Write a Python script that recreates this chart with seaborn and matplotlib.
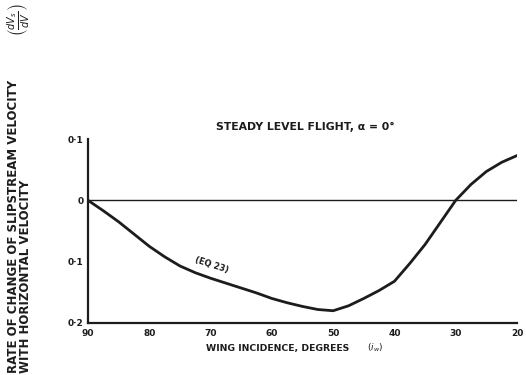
import matplotlib
matplotlib.use("Agg")
import matplotlib.pyplot as plt
import seaborn as sns
import pandas as pd

# Data
incidence = [90, 87.5, 85, 82.5, 80, 77.5, 75, 72.5, 70, 67.5, 65, 62.5, 60, 57.5, 55, 52.5, 50,
             47.5, 45, 42.5, 40, 37.5, 35, 32.5, 30, 27.5, 25, 22.5, 20]
rate = [0.0, -0.017, -0.035, -0.055, -0.075, -0.092, -0.107, -0.118, -0.127, -0.135, -0.143, -0.151,
        -0.160, -0.167, -0.173, -0.178, -0.180, -0.172, -0.160, -0.147, -0.132, -0.103, -0.072,
        -0.036, 0.0, 0.026, 0.047, 0.062, 0.073]
xticks = [90, 80, 70, 60, 50, 40, 30, 20]
yticks = [0.1, 0.0, -0.1, -0.2]
ytick_labels = ["0·1", "0", "0·1", "0·2"]

df = pd.DataFrame({"incidence": incidence, "rate": rate})

sns.set_theme(style="white")
plt.rcParams["font.family"] = ["DejaVu Sans"]

fig = plt.figure(figsize=(5.26, 3.75), dpi=100)
ax = fig.add_axes([88/526, 1-323/375, (517-88)/526, (323-139)/375])

ink = "#1c1c1c"
sns.lineplot(data=df, x="incidence", y="rate", ax=ax, color=ink, linewidth=2.0)
ax.axhline(0, color=ink, linewidth=1.0, xmin=0, xmax=1)

ax.set_xlim(90, 20)
ax.set_ylim(-0.2, 0.1)
ax.set_xticks(xticks)
ax.set_xticklabels([str(t) for t in xticks], fontsize=6.5, fontweight="bold", color=ink)
ax.set_yticks(yticks)
ax.set_yticklabels(ytick_labels, fontsize=6.5, fontweight="bold", color=ink)
ax.tick_params(axis="x", direction="inout", length=4, width=1, color=ink, pad=2)
ax.tick_params(axis="y", direction="in", length=4, width=1, color=ink, pad=3)
ax.set_xlabel("")
ax.set_ylabel("")

for s in ["top", "right"]:
    ax.spines[s].set_visible(False)
for s in ["left", "bottom"]:
    ax.spines[s].set_color(ink)
    ax.spines[s].set_linewidth(1.6)

ax.text(69.8, -0.106, "(EQ 23)", rotation=-18, fontsize=6, fontweight="bold",
        color=ink, ha="center", va="center")

fig.text(305/526, 1-127/375, "STEADY LEVEL FLIGHT, α = 0°", fontsize=7.8, fontweight="bold",
         color=ink, ha="center", va="center")
fig.text(278/526, 1-348/375, "WING INCIDENCE, DEGREES", fontsize=6.7, fontweight="bold",
         color=ink, ha="center", va="center")
fig.text(375/526, 1-348/375, "$(i_w)$", fontsize=6.5, color=ink, ha="center", va="center")

fig.text(14/526, 1-373/375, "RATE OF CHANGE OF SLIPSTREAM VELOCITY", rotation=90,
         fontsize=8.5, fontweight="bold", color=ink, ha="center", va="bottom")
fig.text(26/526, 1-373/375, "WITH HORIZONTAL VELOCITY", rotation=90,
         fontsize=8.5, fontweight="bold", color=ink, ha="center", va="bottom")
fig.text(18/526, 1-20/375, r"$\left(\frac{dV_s}{dV}\right)$", rotation=90,
         fontsize=10, color=ink, ha="center", va="center")

fig.savefig("out.png", dpi=100, facecolor="white")
